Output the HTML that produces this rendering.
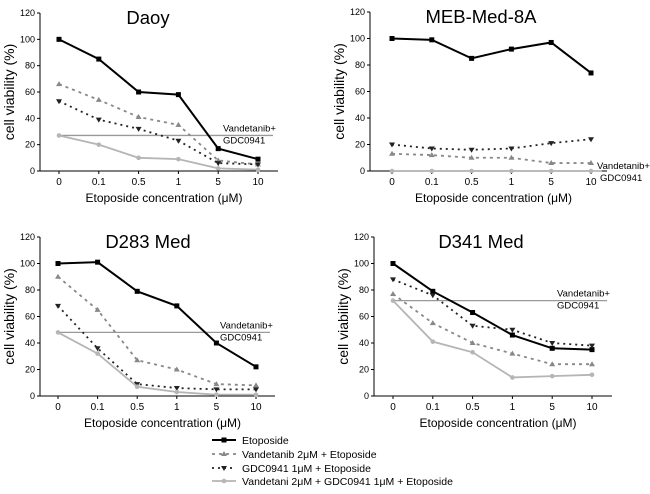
<!DOCTYPE html>
<html><head><meta charset="utf-8"><style>
body{margin:0;background:#fff;width:650px;height:489px;overflow:hidden}
svg{font-family:"Liberation Sans",sans-serif}
</style></head><body>
<svg id="c" width="650" height="489"></svg>
<script>
const categories=["0","0.1","0.5","1","5","10"];
const yTicks=[0,20,40,60,80,100,120];
const titles=["Daoy","MEB-Med-8A","D283 Med","D341 Med"];
const etoposide=[[100,85,60,58,17,9],[100,99,85,92,97,74],[100,101,79,68,40,22],[100,79,63,46,36,35]];
const vandetanib=[[66,54,41,35,8,5],[13,12,10,10,6,6],[90,65,27,20,9,8],[77,55,40,32,24,24]];
const gdc=[[53,39,32,23,6,5],[20,17,16,17,21,24],[68,36,9,6,5,5],[88,76,53,50,40,38]];
const combo=[[27,20,10,9,2,1],[0,0,0,0,0,0],[48,32,7,3,1,1],[72,41,33,14,15,16]];
const combinationLine=[27,0,48,72];
const panels=[{ax:40,x0:59,dx:39.8,yTop:13,yBot:171,xEnd:278,tx:148},
{ax:370,x0:392,dx:39.8,yTop:12,yBot:171,xEnd:607,tx:481},
{ax:40,x0:58,dx:39.6,yTop:237,yBot:396,xEnd:275,tx:148},
{ax:374,x0:393,dx:39.8,yTop:237,yBot:396,xEnd:612,tx:481}];
const NS="http://www.w3.org/2000/svg",svg=document.getElementById('c');
function mk(t,a,p){const e=document.createElementNS(NS,t);for(const k in a)e.setAttribute(k,a[k]);(p||svg).appendChild(e);return e;}
function txt(s,a,p){const e=mk('text',a,p);e.textContent=s;return e;}
const styles=[{c:'#000',w:2,d:'',m:'sq'},{c:'#888',w:1.8,d:'3,4',m:'up'},{c:'#222',w:1.8,d:'2,4',m:'dn'},{c:'#b5b5b5',w:1.8,d:'',m:'ci'}];
const labelNames=['etoposide','vandetanib','gdc0941','combination'];
function marker(g,m,x,y,c){
 if(m=='sq')return mk('rect',{x:x-2.5,y:y-2.5,width:5,height:5,fill:c},g);
 if(m=='up')return mk('polygon',{points:`${x},${y-3} ${x-3},${y+2} ${x+3},${y+2}`,fill:c},g);
 if(m=='dn')return mk('polygon',{points:`${x},${y+3} ${x-3},${y-2} ${x+3},${y-2}`,fill:c},g);
 return mk('circle',{cx:x,cy:y,r:2.3,fill:c},g);
}
panels.forEach((P,i)=>{
 const g=mk('g',{});
 
 
 const X=j=>P.x0+j*P.dx, Y=v=>P.yBot-(v/120)*(P.yBot-P.yTop);
 const t=txt(titles[i],{x:P.tx,y:P.yTop+11,'font-size':18.5,'text-anchor':'middle'},g);
 
 mk('line',{x1:P.ax,y1:P.yTop,x2:P.ax,y2:P.yBot,stroke:'#000','stroke-width':1},g);
 mk('line',{x1:P.ax,y1:P.yBot,x2:P.xEnd,y2:P.yBot,stroke:'#000','stroke-width':1},g);
 yTicks.forEach(v=>{mk('line',{x1:P.ax-3,y1:Y(v),x2:P.ax,y2:Y(v),stroke:'#000'},g);
  const l=txt(v,{x:P.ax-5,y:Y(v)+3,'font-size':9,'text-anchor':'end'},g);
  });
 categories.forEach((c,j)=>{mk('line',{x1:X(j),y1:P.yBot,x2:X(j),y2:P.yBot+3,stroke:'#000'},g);
  const l=txt(c,{x:X(j),y:P.yBot+14,'font-size':10,'text-anchor':'middle'},g);
  });
 const xt=txt('Etoposide concentration (\u03bcM)',{x:(P.ax+P.xEnd)/2+5,y:P.yBot+31,'font-size':12,'text-anchor':'middle'},g);
 
 const yc=(P.yTop+P.yBot)/2;
 const yt=txt('cell viability (%)',{x:P.ax-26,y:yc,'font-size':14,'text-anchor':'middle',transform:`rotate(-90 ${P.ax-26} ${yc})`},g);
 
 const hy=Y(combinationLine[i]);
 const hl=mk('line',{x1:X(0),y1:hy,x2:P.xEnd-5,y2:hy,stroke:'#999','stroke-width':1.3},g);
 
 const ly=i==1?Y(combinationLine[i])-2:hy-4;
 const lx=i==1?597:P.xEnd-55;
 txt('Vandetanib+',{x:lx,y:ly,'font-size':9.5},g);txt('GDC0941',{x:i==1?lx+3:lx,y:ly+12,'font-size':9.5},g);
 [etoposide,vandetanib,gdc,combo].forEach((S,k)=>{
  const st=styles[k],vals=S[i];
  const pl=mk('polyline',{points:vals.map((v,j)=>X(j)+','+Y(v)).join(' '),fill:'none',stroke:st.c,'stroke-width':st.w,'stroke-dasharray':st.d},g);
  
  vals.forEach((v,j)=>{const m=marker(g,st.m,X(j),Y(v),st.c);
   });
 });
});
const leg=mk('g',{});

const legTexts=['Etoposide','Vandetanib 2\u03bcM + Etoposide','GDC0941 1\u03bcM + Etoposide','Vandetani 2\u03bcM + GDC0941 1\u03bcM + Etoposide'];
const legY=[440,454,468,481];
legTexts.forEach((s,k)=>{const st=styles[k];
 const e=mk('g',{},leg);
 mk('line',{x1:212,y1:legY[k],x2:236,y2:legY[k],stroke:st.c,'stroke-width':st.w,'stroke-dasharray':st.d},e);
 marker(e,st.m,224,legY[k],st.c);
 txt(s,{x:242,y:legY[k]+4,'font-size':10.5},e);});
</script>
</body></html>
